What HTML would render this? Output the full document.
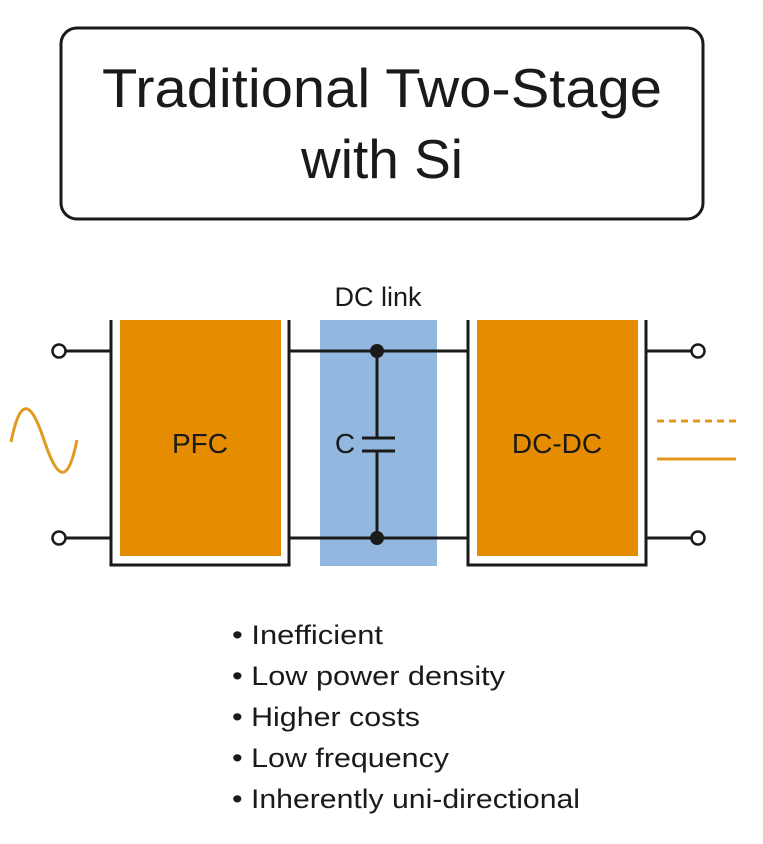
<!DOCTYPE html>
<html><head><style>
body{margin:0;width:763px;height:839px;background:#fff;overflow:hidden;font-family:"Liberation Sans",sans-serif;}
</style></head><body>
<svg width="763" height="839" xmlns="http://www.w3.org/2000/svg" font-family="Liberation Sans, sans-serif">
<rect x="61" y="28" width="642" height="191" rx="16" fill="#fff" stroke="#1a1a1a" stroke-width="3"/>
<text x="382" y="107" font-size="55" text-anchor="middle" fill="#1a1a1a" textLength="560" lengthAdjust="spacingAndGlyphs">Traditional Two-Stage</text>
<text x="382" y="178" font-size="55" text-anchor="middle" fill="#1a1a1a" textLength="162" lengthAdjust="spacingAndGlyphs">with Si</text>
<text x="378" y="306" font-size="27" text-anchor="middle" fill="#1a1a1a">DC link</text>
<rect x="320" y="320" width="117" height="246" fill="#92b8e0"/>
<rect x="120" y="320" width="161" height="236" fill="#e68c00"/>
<rect x="477" y="320" width="161" height="236" fill="#e68c00"/>
<g stroke="#1a1a1a" stroke-width="3" fill="none">
<path d="M111 320V565H289V320"/>
<path d="M468 320V565H646V320"/>
<path d="M65 351H111M65 538H111M289 351H468M289 538H468M646 351H692M646 538H692"/>
<path d="M377 351V438M377 451V538M362 438H395M362 451H395"/>
</g>
<g fill="#fff" stroke="#1a1a1a" stroke-width="2.5">
<circle cx="59" cy="351" r="6.5"/><circle cx="59" cy="538" r="6.5"/>
<circle cx="698" cy="351" r="6.5"/><circle cx="698" cy="538" r="6.5"/>
</g>
<circle cx="377" cy="351" r="7" fill="#1a1a1a"/><circle cx="377" cy="538" r="7" fill="#1a1a1a"/>
<path d="M11 442C20 398 30 398 44 440S68 484 77 440" stroke="#e09a20" stroke-width="3" fill="none"/>
<path d="M657 421H736" stroke="#e09a20" stroke-width="3" stroke-dasharray="7,5"/>
<path d="M657 459H736" stroke="#e09a20" stroke-width="3"/>
<text x="200" y="453" font-size="28" text-anchor="middle" fill="#1a1a1a">PFC</text>
<text x="557" y="453" font-size="28" text-anchor="middle" fill="#1a1a1a">DC-DC</text>
<text x="345" y="453" font-size="28" text-anchor="middle" fill="#1a1a1a">C</text>
<g font-size="27" fill="#1a1a1a">
<text x="232" y="644" textLength="151" lengthAdjust="spacingAndGlyphs">• Inefficient</text>
<text x="232" y="685" textLength="273" lengthAdjust="spacingAndGlyphs">• Low power density</text>
<text x="232" y="726" textLength="188" lengthAdjust="spacingAndGlyphs">• Higher costs</text>
<text x="232" y="767" textLength="217" lengthAdjust="spacingAndGlyphs">• Low frequency</text>
<text x="232" y="808" textLength="348" lengthAdjust="spacingAndGlyphs">• Inherently uni-directional</text>
</g>
</svg>
</body></html>
